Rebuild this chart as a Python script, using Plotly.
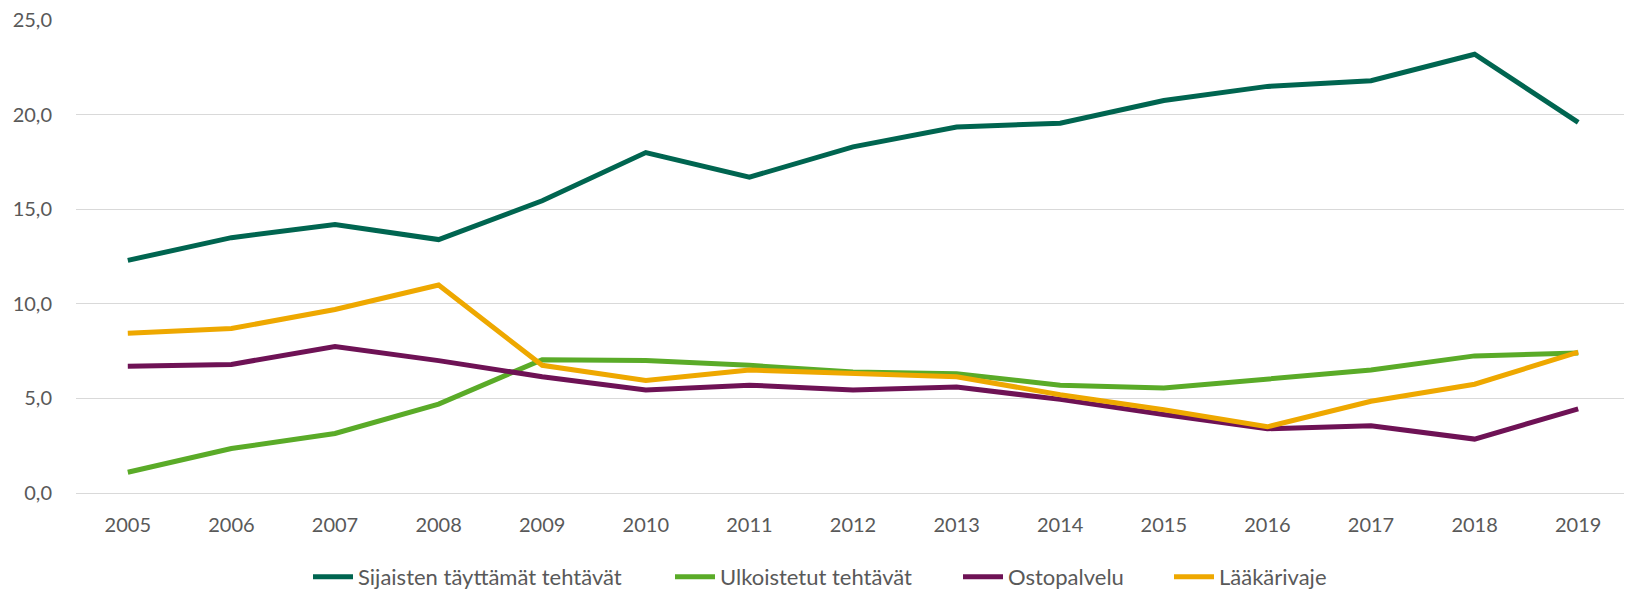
import plotly.graph_objects as go

years = [str(y) for y in range(2005, 2020)]
sijaisten = [12.3, 13.5, 14.2, 13.4, 15.45, 18.0, 16.7, 18.3, 19.35, 19.55, 20.75, 21.5, 21.8, 23.2, 19.6]
ulkoistetut = [1.1, 2.35, 3.15, 4.7, 7.05, 7.0, 6.75, 6.4, 6.3, 5.7, 5.55, 6.0, 6.5, 7.25, 7.4]
ostopalvelu = [6.7, 6.8, 7.75, 7.0, 6.15, 5.45, 5.7, 5.45, 5.6, 4.95, 4.15, 3.4, 3.55, 2.85, 4.45]
laakarivaje = [8.45, 8.7, 9.7, 11.0, 6.75, 5.95, 6.5, 6.3, 6.15, 5.2, 4.4, 3.5, 4.85, 5.75, 7.45]

series = [
    ("Sijaisten täyttämät tehtävät", sijaisten, "#006550"),
    ("Ulkoistetut tehtävät", ulkoistetut, "#5AAB28"),
    ("Ostopalvelu", ostopalvelu, "#6E1255"),
    ("Lääkärivaje", laakarivaje, "#EEA800"),
]

# layout geometry (page body has an 8px margin, so the figure is 1624x582)
W, H = 1624, 582
ML, MR, MT, MB = 68, 2, 11.5, 97
plot_w = W - ML - MR
plot_h = H - MT - MB
legend_item_px = [300, 662, 950, 1161]   # left edge of each legend entry in figure px
legend_center_px = 569                    # vertical centre of legend in figure px

font = "Lato, Open Sans, sans-serif"
fig = go.Figure()
legend_names = ["legend", "legend2", "legend3", "legend4"]
for (name, vals, col), lg in zip(series, legend_names):
    fig.add_trace(go.Scatter(x=years, y=vals, name=name, mode="lines",
                             line=dict(color=col, width=5), legend=lg))

legend_layout = {}
for lg, px in zip(legend_names, legend_item_px):
    legend_layout[lg] = dict(orientation="h", x=(px - ML) / plot_w, xanchor="left",
                             y=-(legend_center_px - (H - MB)) / plot_h, yanchor="middle",
                             bgcolor="rgba(0,0,0,0)",
                             font=dict(family=font, size=22, color="#595959"),
                             itemwidth=40)

fig.update_layout(
    width=W, height=H,
    margin=dict(l=ML, r=MR, t=MT, b=MB, autoexpand=False),
    paper_bgcolor="white", plot_bgcolor="white",
    separators=", ",
    font=dict(family=font, size=20, color="#595959"),
    showlegend=True,
    xaxis=dict(type="category", range=[-0.5, 14.5], showgrid=False, showline=False,
               ticks="", automargin=False, ticklabelstandoff=18,
               tickfont=dict(size=20, color="#595959")),
    yaxis=dict(range=[0, 25.01], tickvals=[0, 5, 10, 15, 20, 25], tickformat=".1f",
               showgrid=True, gridcolor="#D9D9D9", gridwidth=1.3, zeroline=True,
               zerolinecolor="#D9D9D9", zerolinewidth=1.3, showline=False, ticks="",
               ticklabelstandoff=23, automargin=False, ticklabeloverflow="allow",
               tickfont=dict(size=20, color="#595959")),
    **legend_layout,
)
fig.write_html("out.html")
